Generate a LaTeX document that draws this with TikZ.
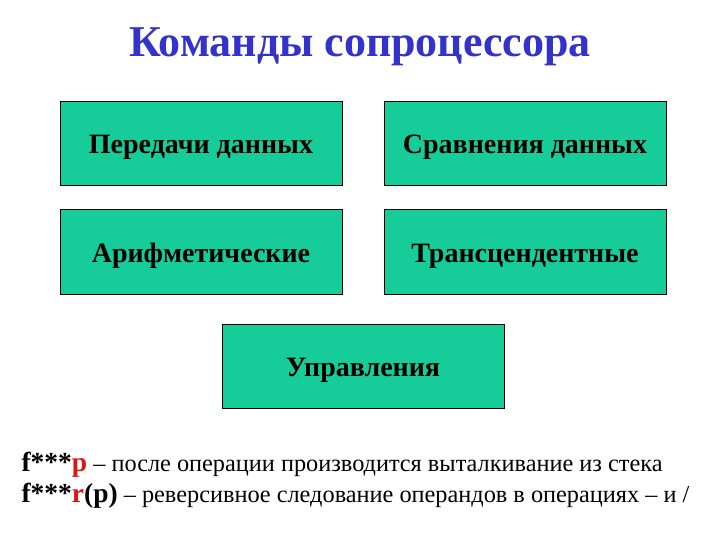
\documentclass[tikz,border=0pt]{standalone}
\usepackage{fontspec}
\setmainfont{Liberation Serif}
\definecolor{boxgreen}{RGB}{22,204,153}
\definecolor{titleblue}{RGB}{51,51,204}
\definecolor{cmdred}{RGB}{220,20,20}
\newcommand{\cmdfont}{\fontsize{27.5}{30}\selectfont\bfseries}
\tikzset{
	group/.style={draw=black, fill=boxgreen, line width=1pt, minimum width=282pt, minimum height=84pt, text height=20pt, text depth=0pt, font=\fontsize{28}{32}\selectfont\bfseries},
	note/.style={anchor=base west, font=\fontsize{24.3}{28}\selectfont}
}
\begin{document}
\begin{tikzpicture}[x=1pt, y=-1pt]
	\useasboundingbox (0,0) rectangle (720,540);
	\node (title) [font=\fontsize{44}{50}\selectfont\bfseries, text=titleblue] at (360,47) {Команды сопроцессора};
	\node (move) [group] at (201,144) {Передачи данных};
	\node (compare) [group] at (525,144) {Сравнения данных};
	\node (arith) [group] at (201,252) {Арифметические};
	\node (trans) [group] at (525,252) {Трансцендентные};
	\node (control) [group] at (363,366) {Управления};
	\node (popnote) [note] at (18,471) {{\cmdfont f***\textcolor{cmdred}{p}} – после операции производится выталкивание из стека};
	\node (revnote) [note] at (18,502) {{\cmdfont f***\textcolor{cmdred}{r}(p)} – реверсивное следование операндов в операциях – и /};
\end{tikzpicture}
\end{document}
